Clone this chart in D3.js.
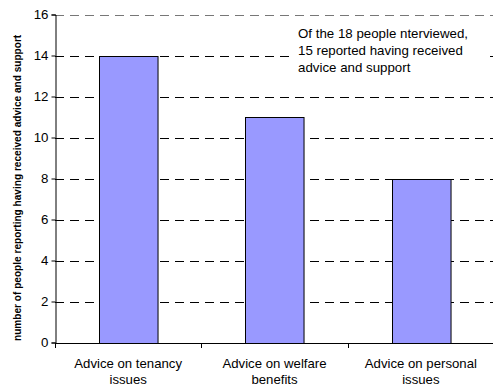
<!DOCTYPE html>
<html>
<head>
<meta charset="utf-8">
<script src="https://cdn.jsdelivr.net/npm/d3@7"></script>
<style>
  html, body { margin: 0; padding: 0; background: #fff; }
  svg { display: block; font-family: "Liberation Sans", Arial, sans-serif; }
</style>
</head>
<body>
<svg id="chart" width="493" height="387"></svg>
<script>
// Survey results: help received by interviewees
const categories = [
  ["Advice on tenancy", "issues"],
  ["Advice on welfare", "benefits"],
  ["Advice on personal", "issues"]
];
const values = [14, 11, 8];
const yTicks = [0, 2, 4, 6, 8, 10, 12, 14, 16];
const yTitle = "number of people reporting having received advice and support";
const note = ["Of the 18 people nterviewed,", "15 reported having received", "advice and support"];

const svg = d3.select("#chart");
const plot = { left: 55, right: 494, top: 14.5, bottom: 342.5 };

const x = d3.scaleBand()
  .domain(d3.range(categories.length))
  .range([plot.left, plot.right])
  .paddingInner(0.6)
  .paddingOuter(0.3);

const y = d3.scaleLinear().domain([0, 16]).range([plot.bottom, plot.top]);

// dashed horizontal gridlines
svg.append("g")
  .selectAll("line")
  .data(yTicks.filter(d => d > 0))
  .join("line")
  .attr("x1", plot.left).attr("x2", plot.right)
  .attr("y1", d => Math.round(y(d)) + 0.5).attr("y2", d => Math.round(y(d)) + 0.5)
  .attr("stroke", d => d === 16 ? "#777" : "#000")
  .attr("stroke-width", 1)
  .attr("stroke-dasharray", "9,6");

// bars
svg.append("g")
  .selectAll("rect")
  .data(values)
  .join("rect")
  .attr("x", (d, i) => Math.round(x(i)) + 0.5)
  .attr("y", d => Math.round(y(d)) + 0.5)
  .attr("width", x.bandwidth())
  .attr("height", d => Math.round(y(0)) - Math.round(y(d)))
  .attr("fill", "#9999FF")
  .attr("stroke", "#000")
  .attr("stroke-width", 1);

// note box covering the gridlines behind it
svg.append("rect")
  .attr("x", 291).attr("y", 19)
  .attr("width", 199).attr("height", 58)
  .attr("fill", "#fff");
svg.append("text")
  .attr("x", 298).attr("y", 38)
  .attr("font-size", 13.3)
  .attr("fill", "#000")
  .selectAll("tspan")
  .data(note)
  .join("tspan")
  .attr("x", 298)
  .attr("dy", (d, i) => i === 0 ? 0 : 17)
  .text(d => d);

// y axis
const yAxis = d3.axisLeft(y).tickValues(yTicks).tickSize(4).tickPadding(3);
const gy = svg.append("g")
  .attr("transform", `translate(${plot.left + 0.5},0)`)
  .call(yAxis);
gy.select(".domain").attr("stroke", "#000");
gy.selectAll(".tick line").attr("stroke", "#000");
gy.selectAll(".tick text")
  .attr("font-size", 13.3)
  .attr("font-family", "Liberation Sans, Arial, sans-serif")
  .attr("fill", "#000");

// x axis line with category boundary ticks
svg.append("line")
  .attr("x1", plot.left).attr("x2", plot.right)
  .attr("y1", Math.round(plot.bottom) + 0.5).attr("y2", Math.round(plot.bottom) + 0.5)
  .attr("stroke", "#000");
const step = (plot.right - plot.left) / categories.length;
svg.append("g")
  .selectAll("line")
  .data(d3.range(categories.length + 1))
  .join("line")
  .attr("x1", i => Math.round(plot.left + i * step) + 0.5)
  .attr("x2", i => Math.round(plot.left + i * step) + 0.5)
  .attr("y1", Math.round(plot.bottom)).attr("y2", Math.round(plot.bottom) + 5)
  .attr("stroke", "#000");

// category labels
svg.append("g")
  .selectAll("text")
  .data(categories)
  .join("text")
  .attr("text-anchor", "middle")
  .attr("font-size", 13.2)
  .attr("fill", "#000")
  .attr("transform", (d, i) => `translate(${x(i) + x.bandwidth() / 2},368)`)
  .selectAll("tspan")
  .data(d => d)
  .join("tspan")
  .attr("x", 0)
  .attr("dy", (d, i) => i === 0 ? 0 : 16)
  .text(d => d);

// y axis title
svg.append("text")
  .attr("transform", "translate(20.5,341) rotate(-90)")
  .attr("font-size", 10.1)
  .attr("font-weight", "bold")
  .attr("fill", "#000")
  .text(yTitle);
</script>
</body>
</html>
